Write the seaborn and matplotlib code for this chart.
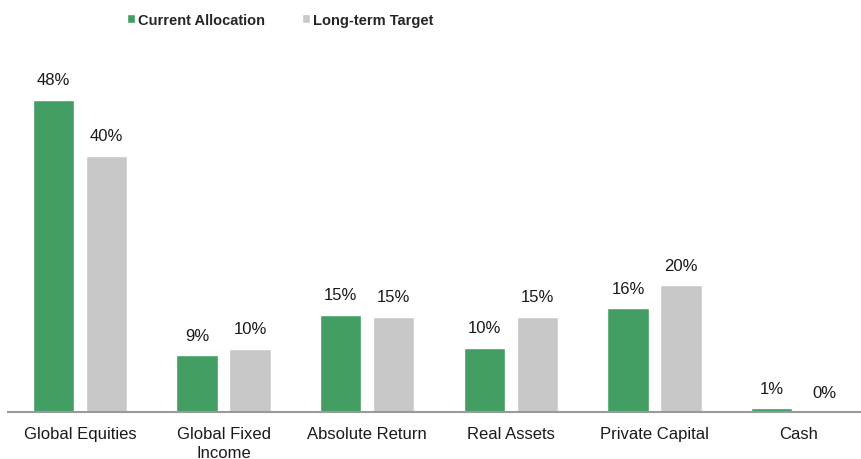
import matplotlib
matplotlib.use("Agg")
import matplotlib.pyplot as plt
import seaborn as sns
import pandas as pd

categorias = ["Global Equities", "Global Fixed\nIncome", "Absolute Return",
              "Real Assets", "Private Capital", "Cash"]
actual = [48.2, 8.8, 15.0, 9.9, 16.0, 0.6]
objetivo = [39.6, 9.8, 14.7, 14.7, 19.6, 0.0]
etiquetas_actual = ["48%", "9%", "15%", "10%", "16%", "1%"]
etiquetas_objetivo = ["40%", "10%", "15%", "15%", "20%", "0%"]
series = ["Current Allocation", "Long-term Target"]

df = pd.DataFrame({
    "Categoria": categorias * 2,
    "Valor": actual + objetivo,
    "Serie": [series[0]] * 6 + [series[1]] * 6,
})

sns.set_style("white")
plt.rcParams["font.family"] = ["Liberation Sans", "DejaVu Sans"]

fig = plt.figure(figsize=(8.62, 4.6), dpi=100)
ax = fig.add_axes([0.0093, 0.102, 1.0, 0.77])

sns.barplot(data=df, x="Categoria", y="Valor", hue="Serie",
            palette=["#439E63", "#C8C8C8"], width=0.74, gap=0.22,
            saturation=1, legend=True, ax=ax)

for cont, labs in zip(ax.containers, [etiquetas_actual, etiquetas_objetivo]):
    ax.bar_label(cont, labels=labs, padding=9, fontsize=12, color="#1a1a1a")

ax.set_xlim(-0.5, 5.5)
ax.set_ylim(0, 54.7)
ax.set_xlabel("")
ax.set_ylabel("")
ax.set_yticks([])
ax.tick_params(axis="x", length=0, labelsize=12, pad=10, colors="#1a1a1a")
for t in ax.get_xticklabels():
    t.set_linespacing(1.35)
for s in ["top", "right", "left"]:
    ax.spines[s].set_visible(False)
ax.spines["bottom"].set_color("#9a9a9a")
ax.spines["bottom"].set_linewidth(1.5)

handles, labels = ax.get_legend_handles_labels()
ax.get_legend().remove()
fig.legend(handles, labels, loc="center", bbox_to_anchor=(0.325, 0.955), ncol=2,
           frameon=False, handlelength=0.5, handleheight=0.5, handletextpad=0.2,
           columnspacing=2.6,
           prop={"family": ["Liberation Sans Narrow", "Liberation Sans"],
                 "weight": "bold", "size": 10.5})

fig.savefig("out.png", dpi=100)
